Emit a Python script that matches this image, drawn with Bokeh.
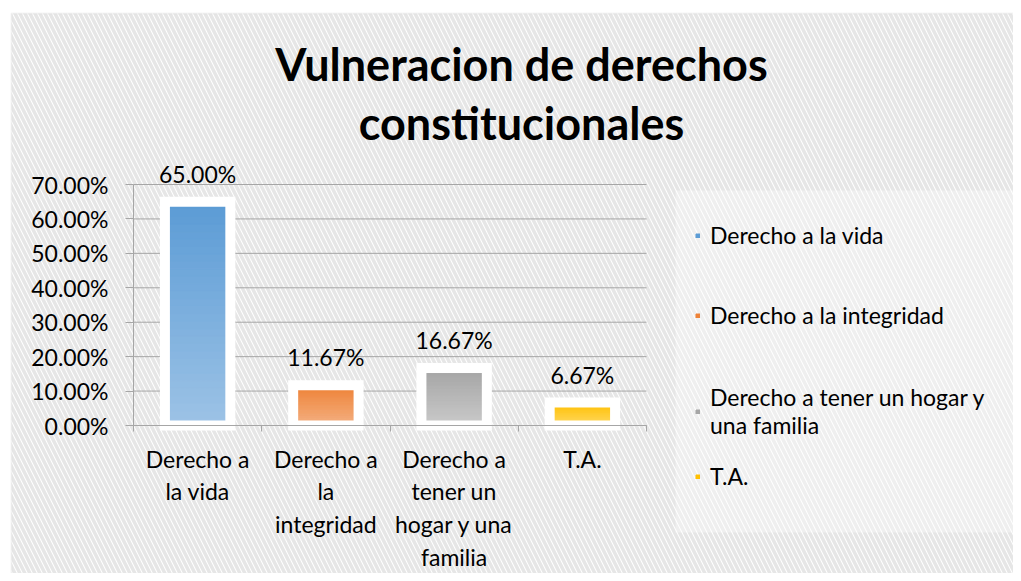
from bokeh.plotting import figure
from bokeh.models import (ColumnDataSource, LabelSet, Label, Legend, LegendItem, FixedTicker,
                          NumeralTickFormatter, Range1d, BoxAnnotation, LinearAxis)
from bokeh.core.properties import value
from bokeh.embed import file_html
from bokeh.resources import INLINE

# ---------------- data ----------------
title_lines = ["Vulneracion de derechos", "constitucionales"]
categories = ["Derecho a la vida", "Derecho a la integridad",
              "Derecho a tener un hogar y una familia", "T.A."]
axis_labels = ["Derecho a\nla vida", "Derecho a\nla\nintegridad",
               "Derecho a\ntener un\nhogar y una\nfamilia", "T.A."]
legend_labels = ["Derecho a la vida", "Derecho a la integridad",
                 "Derecho a tener un hogar y\nuna familia", "T.A."]
values = [0.65, 0.1167, 0.1667, 0.0667]
y_ticks = [0.0, 0.1, 0.2, 0.3, 0.4, 0.5, 0.6, 0.7]

top_colors = ["#5B9BD5", "#EE8237", "#A5A5A5", "#FFC000"]
bottom_colors = ["#9DC3E6", "#F4B183", "#CACACA", "#FFD966"]

FONT = "Lato"
FS = "23px"
TXT = "#000000"
GRID = "#A6A6A6"

# ---------------- layout (pixels) ----------------
W, H = 1013, 573
PX_LEFT, PX_ZERO_Y = 133, 425          # canvas position of (x=0, y=0)
PX_PER_CAT = 128.25
PX_PER_UNIT_Y = 241 / 0.7
ncat = len(categories)
x_start = -PX_LEFT / PX_PER_CAT
y_start = -(H - PX_ZERO_Y) / PX_PER_UNIT_Y

p = figure(width=W, height=H, output_backend="svg", toolbar_location=None,
           x_range=Range1d(x_start, x_start + W / PX_PER_CAT),
           y_range=Range1d(y_start, y_start + H / PX_PER_UNIT_Y),
           min_border=0)
p.background_fill_color = "white"
p.border_fill_color = "white"
p.outline_line_color = None
p.xgrid.visible = False
p.ygrid.visible = False

# striped chart-area texture and outer border
p.add_layout(BoxAnnotation(left=11, right=1030, top=13, bottom=620,
                           left_units="canvas", right_units="canvas",
                           top_units="canvas", bottom_units="canvas",
                           fill_alpha=0, hatch_pattern="\\", hatch_color="#E6E6E6",
                           hatch_scale=10, hatch_weight=3.5,
                           line_color="#D9D9D9", line_width=2, level="image"))
# lighter legend area
p.add_layout(BoxAnnotation(left=675, right=1030, top=190, bottom=532,
                           left_units="canvas", right_units="canvas",
                           top_units="canvas", bottom_units="canvas",
                           fill_color="white", fill_alpha=0.35, line_alpha=0,
                           level="underlay"))

xs = [i + 0.5 for i in range(ncat)]

# horizontal gridlines over the category span
p.segment(x0=[0] * len(y_ticks), x1=[ncat] * len(y_ticks), y0=y_ticks, y1=y_ticks,
          line_color=GRID, line_width=1)


def hex2rgb(h):
    h = h.lstrip("#")
    return tuple(int(h[i:i + 2], 16) for i in (0, 2, 4))


def mix(c1, c2, t):
    a, b = hex2rgb(c1), hex2rgb(c2)
    return "#%02x%02x%02x" % tuple(round(a[j] + (b[j] - a[j]) * t) for j in range(3))


# gradient bars (bottom light -> top dark)
N = 30
gx, gb, gt, gc = [], [], [], []
for i, v in enumerate(values):
    for k in range(N):
        gx.append(xs[i])
        gb.append(v * k / N)
        gt.append(v * (k + 1) / N)
        gc.append(mix(bottom_colors[i], top_colors[i], (k + 0.5) / N))
gsrc = ColumnDataSource(dict(x=gx, bottom=gb, top=gt, color=gc))
bars = p.vbar(x="x", bottom="bottom", top="top", width=0.51, source=gsrc,
              fill_color="color", line_color="color", line_width=1)

# white thick outline around each bar
bsrc = ColumnDataSource(dict(x=xs, top=values, cat=categories,
                             lab=["%.2f%%" % (v * 100) for v in values]))
p.vbar(x="x", top="top", bottom=0, width=0.51, source=bsrc, fill_alpha=0,
       line_color="white", line_width=10, line_join="miter")

# data labels
p.add_layout(LabelSet(x="x", y="top", text="lab", source=bsrc, text_align="center",
                      text_baseline="alphabetic", y_offset=19, text_font=value(FONT),
                      text_font_size=FS, text_color=TXT))

# axes -------------------------------------------------------------
p.yaxis.fixed_location = 0
p.yaxis.bounds = (0, 0.7)
p.yaxis.ticker = FixedTicker(ticks=y_ticks)
p.yaxis.formatter = NumeralTickFormatter(format="0.00%")
p.yaxis.axis_line_color = GRID
p.yaxis.major_tick_line_color = GRID
p.yaxis.major_tick_out = 8
p.yaxis.major_tick_in = 0
p.yaxis.minor_tick_line_color = None
p.yaxis.major_label_standoff = 17
p.yaxis.major_label_text_font = FONT
p.yaxis.major_label_text_font_size = FS
p.yaxis.major_label_text_color = TXT

p.xaxis.fixed_location = 0
p.xaxis.bounds = (0, ncat)
p.xaxis.ticker = FixedTicker(ticks=list(range(ncat + 1)))
p.xaxis.major_label_overrides = {i: "" for i in range(ncat + 1)}
p.xaxis.axis_line_color = GRID
p.xaxis.major_tick_line_color = GRID
p.xaxis.major_tick_out = 6
p.xaxis.major_tick_in = 0
p.xaxis.minor_tick_line_color = None

cat_axis = LinearAxis(fixed_location=0, ticker=FixedTicker(ticks=xs),
                      major_label_overrides={x: lab for x, lab in zip(xs, axis_labels)},
                      axis_line_color=None, major_tick_line_color=None,
                      minor_tick_line_color=None, major_label_standoff=13,
                      major_label_text_font=FONT, major_label_text_font_size=FS,
                      major_label_text_color=TXT, major_label_text_line_height=1.17)
p.add_layout(cat_axis, "below")

# title
p.add_layout(Label(x=3.025, y=1.051, text=title_lines[0], text_align="center",
                   text_baseline="alphabetic", text_font=FONT,
                   text_font_style="bold", text_font_size="45px", text_color=TXT))
p.add_layout(Label(x=3.025, y=0.880, text=title_lines[1], text_align="center",
                   text_baseline="alphabetic", text_font=FONT,
                   text_font_style="bold", text_font_size="45px", text_color=TXT))

# legends (one entry each, positioned like the original)
legend_vy = [324, 244, 134, 83]
for i, lab in enumerate(legend_labels):
    lg = Legend(items=[LegendItem(label=lab, renderers=[bars], index=i * N + N - 1)],
                location=(695, legend_vy[i]),
                glyph_width=5, glyph_height=5, label_standoff=10, padding=0, margin=0,
                spacing=0, border_line_alpha=0, background_fill_alpha=0,
                label_text_font=FONT, label_text_font_size=FS, label_text_color=TXT,
                label_text_line_height=1.3)
    p.add_layout(lg)

open("out.html", "w").write(file_html(p, INLINE))
